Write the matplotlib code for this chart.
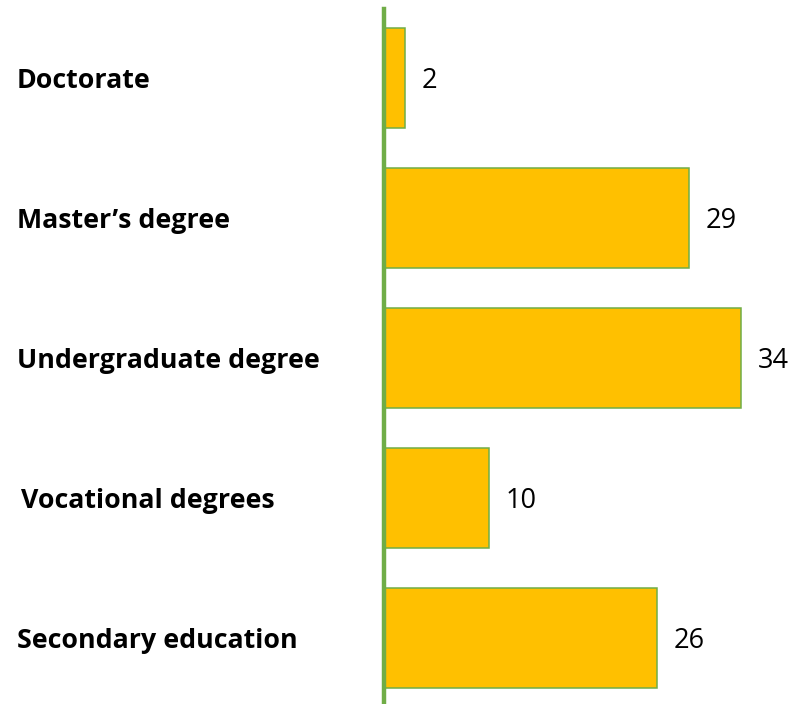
import matplotlib
matplotlib.use("Agg")
import matplotlib.pyplot as plt
from matplotlib.transforms import blended_transform_factory

categories = ["Doctorate", "Master\u2019s degree", "Undergraduate degree",
              "Vocational degrees", "Secondary education"]
values = [2, 29, 34, 10, 26]

W, H = 795, 704
fig = plt.figure(figsize=(W / 100, H / 100), dpi=100)
ax_left, ax_top, ax_bottom = 384, 9, 704
ax = fig.add_axes([ax_left / W, 0, (W - ax_left) / W, (H - ax_top) / H])

pos = list(range(len(categories)))
ax.barh(pos, values, height=100 / 140, color="#FFC000", edgecolor="#70AD47",
        linewidth=1.1, zorder=2)
ax.set_xlim(0, (W - ax_left) / 10.5)
ax.set_ylim((ax_bottom - 78) / 140, (ax_top - 78) / 140)

for s in ["top", "right", "bottom"]:
    ax.spines[s].set_visible(False)
ax.spines["left"].set_color("#70AD47")
ax.spines["left"].set_linewidth(3.2)
ax.spines["left"].set_zorder(3)
ax.set_xticks([])
ax.set_yticks([])

for p, v in zip(pos, values):
    ax.annotate(str(v), xy=(v, p), xytext=(12, -2), textcoords="offset points",
                va="center", ha="left", fontsize=19.5, family="Open Sans",
                color="black")

trans = blended_transform_factory(fig.transFigure, ax.transData)
xoffs = [17, 17, 17, 21, 17]
for p, lab, xo in zip(pos, categories, xoffs):
    ax.text(xo / W, p + 0.02, lab, transform=trans, va="center", ha="left",
            fontsize=19.3, fontweight="bold", family="Open Sans", color="black",
            clip_on=False)

fig.savefig("out.png", dpi=100)
